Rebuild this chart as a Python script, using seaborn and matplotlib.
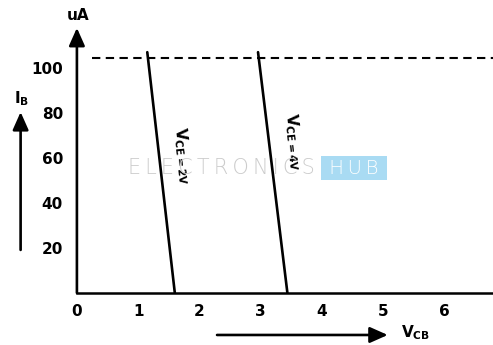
import matplotlib
matplotlib.use("Agg")
import matplotlib.pyplot as plt
import pandas as pd
import seaborn as sns

# curve values (V_CB in volts, I_B in uA)
curve_names = ["2V", "4V"]
vcb_top = [1.15, 2.96]
vcb_bottom = [1.60, 3.44]
ib_top = [107, 107]
ib_bottom = [0, 0]
saturation_ib = 104.4

x_ticks = [0, 1, 2, 3, 4, 5, 6]
y_ticks = [20, 40, 60, 80, 100]
label_pos_x = [1.73, 3.54]
label_pos_y = [61, 67]

sns.set_theme(style="white")
plt.rcParams["font.family"] = ["DejaVu Sans"]
plt.rcParams["mathtext.default"] = "bf"
plt.rcParams["text.color"] = "black"

rows = []
for name, x0, x1, y0, y1 in zip(curve_names, vcb_top, vcb_bottom, ib_top, ib_bottom):
    rows.append({"curve": name, "vcb": x0, "ib": y0})
    rows.append({"curve": name, "vcb": x1, "ib": y1})
df = pd.DataFrame(rows)

fig = plt.figure(figsize=(4.93, 3.45), dpi=100)
ax = fig.add_axes([0.156, 0.151, 0.844, 0.791])

sns.lineplot(data=df, x="vcb", y="ib", units="curve", estimator=None,
             color="black", linewidth=1.9, ax=ax)

ax.plot([0.245, 6.8], [saturation_ib, saturation_ib], color="black",
        linewidth=1.5, linestyle=(0, (4, 2.6)))

ax.set_xlim(0, 6.8)
ax.set_ylim(0, 121.3)
ax.set_xticks(x_ticks)
ax.set_yticks(y_ticks)
ax.set_xticklabels([str(v) for v in x_ticks], fontsize=11, fontweight="bold")
ax.set_yticklabels([str(v) for v in y_ticks], fontsize=11, fontweight="bold")
ax.tick_params(axis="both", length=0, colors="black")
ax.tick_params(axis="x", pad=8)
ax.tick_params(axis="y", pad=10)
ax.set_xlabel("")
ax.set_ylabel("")

for side in ["top", "right", "left"]:
    ax.spines[side].set_visible(False)
ax.spines["bottom"].set_linewidth(1.8)
ax.spines["bottom"].set_color("black")

arrow = dict(arrowstyle="-|>,head_length=0.9,head_width=0.4", color="black", lw=1.9,
             shrinkA=0, shrinkB=0)
# y axis with arrow
ax.annotate("", xy=(0, 117.8), xytext=(0, 0), arrowprops=arrow, annotation_clip=False)
ax.text(0.02, 123.5, "uA", fontsize=11, fontweight="bold", ha="center", va="center",
        clip_on=False)

# I_B arrow on the left
ax.annotate("", xy=(-0.92, 80.4), xytext=(-0.92, 19.1), arrowprops=arrow,
            annotation_clip=False)
ax.text(-0.9, 86.5, "$I_B$", fontsize=11, ha="center", va="center", clip_on=False)

# V_CB arrow below
ax.annotate("", xy=(5.08, -18.7), xytext=(2.29, -18.7), arrowprops=arrow,
            annotation_clip=False)
ax.text(5.3, -17.5, "$V_{CB}$", fontsize=11, ha="left", va="center", clip_on=False)

for name, lx, ly in zip(curve_names, label_pos_x, label_pos_y):
    ax.text(lx, ly, "$V_{CE=" + name + "}$", fontsize=11, rotation=-84,
            rotation_mode="anchor", ha="center", va="center")

# faint watermark
thin = "\u2009"
ax.text(0.83, 55.5, thin.join("ELECTRONICS"), fontsize=15, color="#cccccc",
        fontweight="light", ha="left", va="center")
ax.text(4.02, 55.5, " " + thin.join("HUB") + " ", fontsize=14, color="white",
        fontweight="light", ha="left", va="center",
        bbox=dict(boxstyle="square,pad=0.12", fc="#a9dbf3", ec="none"))

fig.savefig("out.png", dpi=100)
